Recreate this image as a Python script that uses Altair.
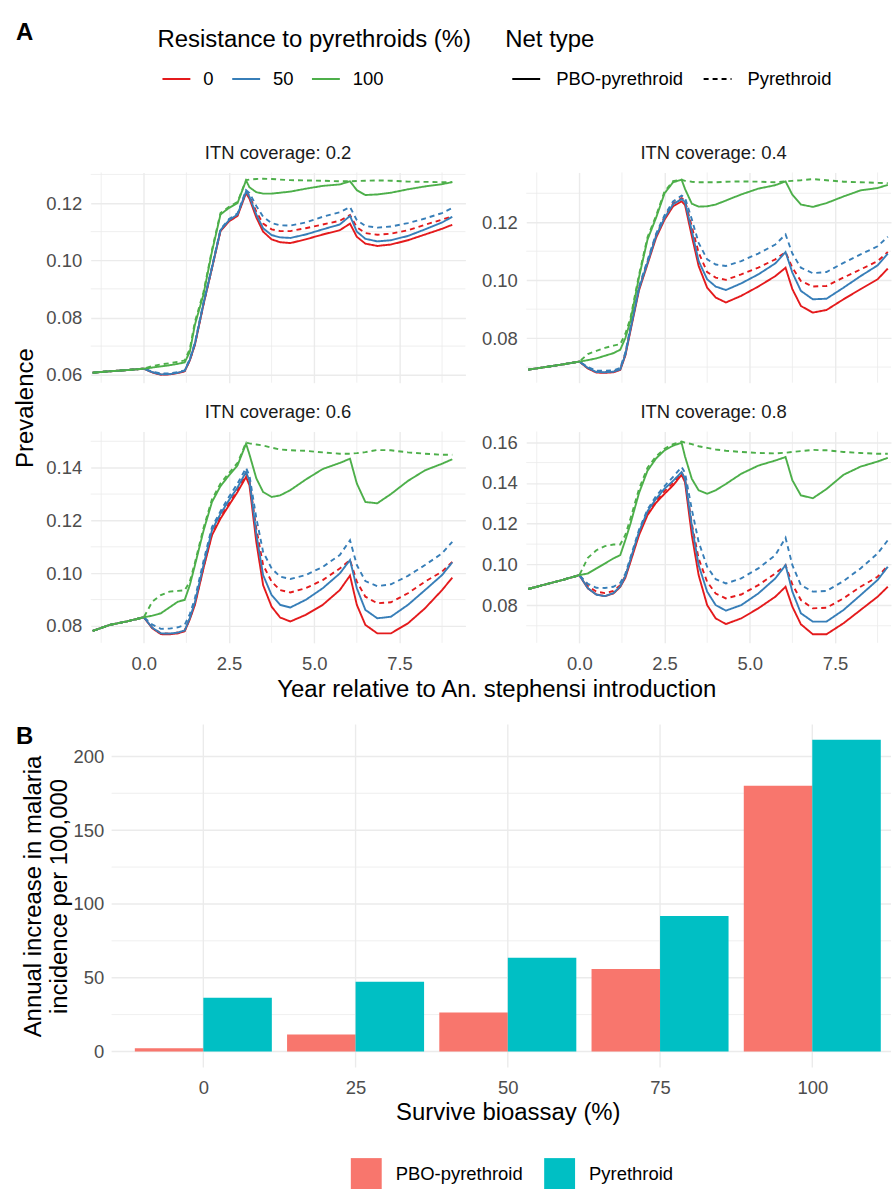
import altair as alt
import pandas as pd

FONT = "Liberation Sans"
AXIS_GREY = "#4D4D4D"
GRID = "#EBEBEB"
SMALL = 18.5     # tick labels, strip titles, legend labels
LARGE = 24       # axis and legend titles

# ---------------------------------------------------------------------------
# Panel A: modelled prevalence around the An. stephensi introduction
# ---------------------------------------------------------------------------
YEARS_BEFORE = [-1.5, -1.0, -0.5]
YEARS_AFTER = [0, 0.25, 0.5, 0.75, 1.0, 1.2, 1.35, 1.5, 1.75, 2.0, 2.25, 2.5,
               2.75, 3.0, 3.1, 3.3, 3.5, 3.75, 4.0, 4.3, 4.75, 5.25, 5.75,
               6.05, 6.25, 6.5, 6.85, 7.25, 7.75, 8.25, 8.75, 9.05]

COVERAGE = ["0.2", "0.4", "0.6", "0.8"]
RESISTANCE = ["0", "50", "100"]
NET_TYPES = ["PBO-pyrethroid", "Pyrethroid"]
RES_COLOURS = ["#E41A1C", "#377EB8", "#4DAF4A"]

# prevalence before introduction (same for every scenario of a coverage level)
pre_02 = [0.0607, 0.0612, 0.0616]
pre_04 = [0.0691, 0.0700, 0.0709]
pre_06 = [0.0781, 0.0804, 0.0817]
pre_08 = [0.0880, 0.0902, 0.0924]

# ITN coverage 0.2
c02_r0_pbo = [0.0621, 0.0608, 0.0600, 0.0601, 0.0606, 0.0612, 0.0650, 0.0705, 0.0845, 0.0972, 0.1102, 0.1136, 0.1155, 0.1235, 0.1215, 0.1150, 0.1100, 0.1073, 0.1063, 0.1060, 0.1073, 0.1090, 0.1105, 0.1128, 0.1082, 0.1058, 0.1050, 0.1055, 0.1070, 0.1090, 0.1110, 0.1124]
c02_r0_pyr = [0.0621, 0.0609, 0.0601, 0.0602, 0.0607, 0.0613, 0.0651, 0.0706, 0.0846, 0.0973, 0.1104, 0.1139, 0.1158, 0.1240, 0.1225, 0.1170, 0.1128, 0.1108, 0.1102, 0.1102, 0.1112, 0.1125, 0.1138, 0.1158, 0.1115, 0.1095, 0.1089, 0.1093, 0.1105, 0.1124, 0.1142, 0.1153]
c02_r50_pbo = [0.0621, 0.0609, 0.0601, 0.0602, 0.0607, 0.0614, 0.0652, 0.0708, 0.0848, 0.0974, 0.1105, 0.1140, 0.1160, 0.1240, 0.1222, 0.1160, 0.1112, 0.1088, 0.1080, 0.1078, 0.1090, 0.1108, 0.1125, 0.1155, 0.1100, 0.1075, 0.1066, 0.1070, 0.1085, 0.1108, 0.1132, 0.1152]
c02_r50_pyr = [0.0621, 0.0611, 0.0604, 0.0604, 0.0609, 0.0615, 0.0655, 0.0712, 0.0852, 0.0977, 0.1108, 0.1144, 0.1164, 0.1245, 0.1235, 0.1190, 0.1152, 0.1130, 0.1122, 0.1121, 0.1132, 0.1152, 0.1168, 0.1186, 0.1140, 0.1120, 0.1114, 0.1118, 0.1130, 0.1146, 0.1165, 0.1183]
c02_r100_pbo = [0.0621, 0.0625, 0.0629, 0.0633, 0.0638, 0.0643, 0.0680, 0.0775, 0.0880, 0.1030, 0.1160, 0.1183, 0.1200, 0.1279, 0.1255, 0.1238, 0.1233, 0.1233, 0.1236, 0.1240, 0.1250, 0.1260, 0.1265, 0.1276, 0.1245, 0.1228, 0.1230, 0.1236, 0.1248, 0.1258, 0.1266, 0.1273]
c02_r100_pyr = [0.0621, 0.0630, 0.0636, 0.0640, 0.0645, 0.0650, 0.0690, 0.0785, 0.0888, 0.1036, 0.1165, 0.1187, 0.1204, 0.1280, 0.1282, 0.1284, 0.1285, 0.1284, 0.1282, 0.1280, 0.1279, 0.1278, 0.1276, 0.1276, 0.1277, 0.1278, 0.1279, 0.1278, 0.1275, 0.1274, 0.1273, 0.1273]

# ITN coverage 0.4
c04_r0_pbo = [0.0719, 0.0695, 0.0681, 0.0680, 0.0682, 0.0690, 0.0740, 0.0825, 0.0965, 0.1055, 0.1146, 0.1209, 0.1255, 0.1272, 0.1260, 0.1152, 0.1049, 0.0974, 0.0940, 0.0923, 0.0946, 0.0978, 0.1014, 0.1043, 0.0969, 0.0911, 0.0888, 0.0897, 0.0934, 0.0969, 0.1003, 0.1040]
c04_r0_pyr = [0.0719, 0.0697, 0.0684, 0.0683, 0.0685, 0.0693, 0.0745, 0.0832, 0.0972, 0.1063, 0.1155, 0.1218, 0.1265, 0.1283, 0.1275, 0.1185, 0.1095, 0.1028, 0.1009, 0.1001, 0.1020, 0.1043, 0.1072, 0.1097, 0.1043, 0.0997, 0.0978, 0.0980, 0.1009, 0.1037, 0.1066, 0.1097]
c04_r50_pbo = [0.0719, 0.0697, 0.0683, 0.0682, 0.0684, 0.0692, 0.0743, 0.0830, 0.0970, 0.1060, 0.1152, 0.1215, 0.1262, 0.1280, 0.1270, 0.1170, 0.1066, 0.1003, 0.0978, 0.0966, 0.0989, 0.1020, 0.1058, 0.1097, 0.1026, 0.0963, 0.0934, 0.0936, 0.0974, 0.1014, 0.1051, 0.1092]
c04_r50_pyr = [0.0719, 0.0700, 0.0688, 0.0687, 0.0689, 0.0697, 0.0750, 0.0838, 0.0978, 0.1068, 0.1160, 0.1224, 0.1272, 0.1292, 0.1285, 0.1210, 0.1129, 0.1072, 0.1054, 0.1049, 0.1066, 0.1092, 0.1123, 0.1158, 0.1092, 0.1043, 0.1024, 0.1028, 0.1060, 0.1089, 0.1117, 0.1150]
c04_r100_pbo = [0.0719, 0.0724, 0.0730, 0.0739, 0.0748, 0.0760, 0.0800, 0.0860, 0.1010, 0.1140, 0.1215, 0.1300, 0.1338, 0.1347, 0.1315, 0.1264, 0.1254, 0.1255, 0.1261, 0.1275, 0.1296, 0.1316, 0.1328, 0.1341, 0.1295, 0.1261, 0.1253, 0.1266, 0.1289, 0.1310, 0.1318, 0.1329]
c04_r100_pyr = [0.0719, 0.0745, 0.0756, 0.0766, 0.0774, 0.0779, 0.0815, 0.0870, 0.1018, 0.1148, 0.1222, 0.1306, 0.1342, 0.1347, 0.1343, 0.1340, 0.1338, 0.1338, 0.1338, 0.1340, 0.1341, 0.1340, 0.1338, 0.1341, 0.1343, 0.1345, 0.1349, 0.1345, 0.1340, 0.1338, 0.1336, 0.1335]

# ITN coverage 0.6
c06_r0_pbo = [0.0833, 0.0791, 0.0769, 0.0768, 0.0772, 0.0780, 0.0825, 0.0880, 0.1018, 0.1144, 0.1207, 0.1258, 0.1308, 0.1365, 0.1333, 0.1119, 0.0955, 0.0873, 0.0832, 0.0817, 0.0842, 0.0880, 0.0936, 0.0991, 0.0880, 0.0804, 0.0772, 0.0772, 0.0810, 0.0867, 0.0936, 0.0983]
c06_r0_pyr = [0.0833, 0.0793, 0.0772, 0.0771, 0.0775, 0.0783, 0.0828, 0.0885, 0.1022, 0.1150, 0.1213, 0.1265, 0.1315, 0.1377, 0.1350, 0.1170, 0.1031, 0.0968, 0.0936, 0.0927, 0.0943, 0.0974, 0.1018, 0.1050, 0.0968, 0.0911, 0.0886, 0.0890, 0.0924, 0.0968, 0.1006, 0.1043]
c06_r50_pbo = [0.0833, 0.0793, 0.0772, 0.0771, 0.0775, 0.0783, 0.0830, 0.0890, 0.1030, 0.1163, 0.1225, 0.1277, 0.1325, 0.1384, 0.1350, 0.1150, 0.0993, 0.0917, 0.0880, 0.0870, 0.0899, 0.0943, 0.0999, 0.1050, 0.0943, 0.0861, 0.0829, 0.0835, 0.0880, 0.0936, 0.0993, 0.1041]
c06_r50_pyr = [0.0833, 0.0805, 0.0789, 0.0790, 0.0795, 0.0804, 0.0845, 0.0905, 0.1045, 0.1175, 0.1235, 0.1290, 0.1340, 0.1399, 0.1370, 0.1210, 0.1081, 0.1018, 0.0987, 0.0978, 0.0993, 0.1024, 0.1069, 0.1125, 0.1031, 0.0970, 0.0951, 0.0958, 0.0990, 0.1031, 0.1075, 0.1119]
c06_r100_pbo = [0.0833, 0.0839, 0.0848, 0.0870, 0.0892, 0.0899, 0.0955, 0.1030, 0.1160, 0.1270, 0.1330, 0.1371, 0.1409, 0.1491, 0.1450, 0.1360, 0.1308, 0.1289, 0.1295, 0.1315, 0.1355, 0.1395, 0.1418, 0.1434, 0.1340, 0.1270, 0.1265, 0.1300, 0.1350, 0.1390, 0.1415, 0.1432]
c06_r100_pyr = [0.0833, 0.0892, 0.0917, 0.0930, 0.0933, 0.0935, 0.0968, 0.1040, 0.1170, 0.1280, 0.1340, 0.1380, 0.1418, 0.1495, 0.1492, 0.1488, 0.1484, 0.1476, 0.1469, 0.1466, 0.1464, 0.1458, 0.1453, 0.1453, 0.1455, 0.1459, 0.1467, 0.1466, 0.1458, 0.1453, 0.1449, 0.1449]

# ITN coverage 0.8
c08_r0_pbo = [0.0948, 0.0883, 0.0853, 0.0845, 0.0858, 0.0890, 0.0935, 0.1013, 0.1144, 0.1242, 0.1303, 0.1347, 0.1388, 0.1440, 0.1404, 0.1144, 0.0948, 0.0801, 0.0736, 0.0708, 0.0736, 0.0785, 0.0842, 0.0891, 0.0793, 0.0707, 0.0658, 0.0658, 0.0712, 0.0777, 0.0842, 0.0891]
c08_r0_pyr = [0.0948, 0.0895, 0.0867, 0.0860, 0.0870, 0.0898, 0.0945, 0.1020, 0.1152, 0.1250, 0.1312, 0.1360, 0.1400, 0.1450, 0.1420, 0.1200, 0.1029, 0.0915, 0.0858, 0.0834, 0.0853, 0.0899, 0.0956, 0.0997, 0.0902, 0.0826, 0.0785, 0.0788, 0.0834, 0.0891, 0.0940, 0.0994]
c08_r50_pbo = [0.0948, 0.0884, 0.0852, 0.0845, 0.0860, 0.0893, 0.0942, 0.1025, 0.1160, 0.1261, 0.1322, 0.1372, 0.1410, 0.1453, 0.1420, 0.1190, 0.0997, 0.0867, 0.0801, 0.0774, 0.0801, 0.0858, 0.0932, 0.0997, 0.0867, 0.0761, 0.0720, 0.0720, 0.0777, 0.0850, 0.0924, 0.0989]
c08_r50_pyr = [0.0948, 0.0905, 0.0886, 0.0885, 0.0891, 0.0910, 0.0955, 0.1035, 0.1170, 0.1270, 0.1335, 0.1385, 0.1430, 0.1478, 0.1450, 0.1270, 0.1111, 0.0989, 0.0928, 0.0907, 0.0932, 0.0981, 0.1046, 0.1131, 0.0997, 0.0899, 0.0867, 0.0870, 0.0919, 0.0981, 0.1054, 0.1119]
c08_r100_pbo = [0.0948, 0.0956, 0.0981, 0.1005, 0.1030, 0.1046, 0.1120, 0.1200, 0.1350, 0.1460, 0.1520, 0.1560, 0.1583, 0.1597, 0.1530, 0.1420, 0.1364, 0.1347, 0.1364, 0.1395, 0.1445, 0.1485, 0.1510, 0.1527, 0.1413, 0.1339, 0.1325, 0.1370, 0.1440, 0.1480, 0.1505, 0.1523]
c08_r100_pyr = [0.0948, 0.1033, 0.1070, 0.1090, 0.1098, 0.1098, 0.1145, 0.1225, 0.1370, 0.1475, 0.1530, 0.1568, 0.1590, 0.1603, 0.1598, 0.1590, 0.1580, 0.1572, 0.1564, 0.1558, 0.1552, 0.1547, 0.1545, 0.1548, 0.1552, 0.1556, 0.1562, 0.1560, 0.1552, 0.1547, 0.1543, 0.1543]

# axis breaks
YEAR_TICKS = [0, 2.5, 5.0, 7.5]
YEAR_MINOR = [-1.25, 1.25, 3.75, 6.25, 8.75]

# ---------------------------------------------------------------------------
# Panel B: annual increase in incidence by bioassay survival
# ---------------------------------------------------------------------------
SURVIVE = [0, 25, 50, 75, 100]
INC_PBO = [2.2, 11.5, 26.4, 55.9, 180.2]
INC_PYR = [36.5, 47.3, 63.5, 91.9, 211.3]
BAR_COLOURS = ["#F8766D", "#00BFC4"]
INC_TICKS = [0, 50, 100, 150, 200]
INC_MINOR = [25, 75, 125, 175]

# ---------------------------------------------------------------------------
# long table for the line panels
# ---------------------------------------------------------------------------
pre_by_cov = {"0.2": pre_02, "0.4": pre_04, "0.6": pre_06, "0.8": pre_08}
series = {
    ("0.2", "0", NET_TYPES[0]): c02_r0_pbo, ("0.2", "0", NET_TYPES[1]): c02_r0_pyr,
    ("0.2", "50", NET_TYPES[0]): c02_r50_pbo, ("0.2", "50", NET_TYPES[1]): c02_r50_pyr,
    ("0.2", "100", NET_TYPES[0]): c02_r100_pbo, ("0.2", "100", NET_TYPES[1]): c02_r100_pyr,
    ("0.4", "0", NET_TYPES[0]): c04_r0_pbo, ("0.4", "0", NET_TYPES[1]): c04_r0_pyr,
    ("0.4", "50", NET_TYPES[0]): c04_r50_pbo, ("0.4", "50", NET_TYPES[1]): c04_r50_pyr,
    ("0.4", "100", NET_TYPES[0]): c04_r100_pbo, ("0.4", "100", NET_TYPES[1]): c04_r100_pyr,
    ("0.6", "0", NET_TYPES[0]): c06_r0_pbo, ("0.6", "0", NET_TYPES[1]): c06_r0_pyr,
    ("0.6", "50", NET_TYPES[0]): c06_r50_pbo, ("0.6", "50", NET_TYPES[1]): c06_r50_pyr,
    ("0.6", "100", NET_TYPES[0]): c06_r100_pbo, ("0.6", "100", NET_TYPES[1]): c06_r100_pyr,
    ("0.8", "0", NET_TYPES[0]): c08_r0_pbo, ("0.8", "0", NET_TYPES[1]): c08_r0_pyr,
    ("0.8", "50", NET_TYPES[0]): c08_r50_pbo, ("0.8", "50", NET_TYPES[1]): c08_r50_pyr,
    ("0.8", "100", NET_TYPES[0]): c08_r100_pbo, ("0.8", "100", NET_TYPES[1]): c08_r100_pyr,
}

rows = []
for cov in COVERAGE:
    for res in RESISTANCE:
        for net in NET_TYPES:
            years = YEARS_BEFORE + YEARS_AFTER
            values = pre_by_cov[cov] + series[(cov, res, net)]
            for yr, v in zip(years, values):
                rows.append({"coverage": cov, "res": res, "net": net,
                             "year": yr, "prev": v})
prev_df = pd.DataFrame(rows)

# ---------------------------------------------------------------------------
# 2 x 2 grid geometry (the right-hand column is trimmed at the figure edge)
# ---------------------------------------------------------------------------
YEAR_RANGE = [-1.558, 9.436]
PANEL_W = 376
COL_W = [376, 366]
ROW_H = [211, 212]
COL_GAP = 61
ROW_GAP = 49

panel_specs = {
    "0.2": dict(col=0, row=0, y=[0.0572, 0.1307], major=[0.06, 0.08, 0.10, 0.12], minor=[0.07, 0.09, 0.11, 0.13]),
    "0.4": dict(col=1, row=0, y=[0.0646, 0.1372], major=[0.08, 0.10, 0.12], minor=[0.07, 0.09, 0.11, 0.13]),
    "0.6": dict(col=0, row=1, y=[0.0736, 0.1537], major=[0.08, 0.10, 0.12, 0.14], minor=[0.09, 0.11, 0.13, 0.15]),
    "0.8": dict(col=1, row=1, y=[0.0616, 0.1652], major=[0.08, 0.10, 0.12, 0.14, 0.16], minor=[0.07, 0.09, 0.11, 0.13, 0.15]),
}

text_common = dict(labelFont=FONT, titleFont=FONT)


def prevalence_panel(cov):
    spec = panel_specs[cov]
    col, row = spec["col"], spec["row"]
    width, height = COL_W[col], ROW_H[row]
    first = row == 0 and col == 0
    x_hi = YEAR_RANGE[0] + (YEAR_RANGE[1] - YEAR_RANGE[0]) * width / PANEL_W
    xs = alt.Scale(domain=[YEAR_RANGE[0], x_hi], nice=False, zero=False)
    ys = alt.Scale(domain=spec["y"], nice=False, zero=False)

    x_axis_kw = dict(values=YEAR_TICKS, ticks=False, domain=False, grid=True,
                     gridColor=GRID, gridWidth=1.4, **text_common)
    if row == 1:
        x_axis_kw.update(labels=True, format=".1f", labelFontSize=SMALL,
                         labelColor=AXIS_GREY, labelPadding=12)
    else:
        x_axis_kw.update(labels=False)
    if row == 1 and col == 0:
        x_axis_kw.update(title="Year relative to An. stephensi introduction",
                         titleFontSize=LARGE, titleFontWeight="normal",
                         titleColor="black", titleX=407, titleY=54,
                         titleAlign="center", titleBaseline="alphabetic")
    else:
        x_axis_kw.update(title=None)
    x_axis = alt.Axis(**x_axis_kw)

    y_axis_kw = dict(values=spec["major"], format=".2f", ticks=False,
                     domain=False, grid=True, gridColor=GRID, gridWidth=1.4,
                     labelFontSize=SMALL, labelColor=AXIS_GREY, labelPadding=9,
                     **text_common)
    if first:
        y_axis_kw.update(title="Prevalence", titleFontSize=LARGE,
                         titleFontWeight="normal", titleColor="black",
                         titleAngle=270, titleX=-58, titleY=236,
                         titleAlign="center", titleBaseline="alphabetic")
    else:
        y_axis_kw.update(title=None)
    y_axis = alt.Axis(**y_axis_kw)

    if first:
        legend_kw = dict(orient="none", direction="horizontal", padding=0,
                         symbolType="stroke", symbolSize=784,
                         symbolStrokeWidth=2, labelFontSize=SMALL,
                         labelColor="black", labelFont=FONT, titleFont=FONT,
                         titleFontSize=LARGE, titleFontWeight="normal",
                         titleColor="black", titlePadding=12, titleLimit=600,
                         legendY=-145)
        colour_legend = alt.Legend(title="Resistance to pyrethroids (%)",
                                   legendX=67, columns=3, columnPadding=13,
                                   labelOffset=12, symbolOffset=4, **legend_kw)
        dash_legend = alt.Legend(title="Net type", legendX=416, columns=2,
                                 columnPadding=13, labelOffset=15,
                                 symbolOffset=6, symbolStrokeColor="black",
                                 **legend_kw)
    else:
        colour_legend = None
        dash_legend = None

    data = prev_df[prev_df["coverage"] == cov]

    minor_x = alt.Chart(pd.DataFrame({"year": YEAR_MINOR})).mark_rule(
        color=GRID, strokeWidth=0.8).encode(
        x=alt.X("year:Q", scale=xs, axis=x_axis))
    minor_y = alt.Chart(pd.DataFrame({"prev": spec["minor"]})).mark_rule(
        color=GRID, strokeWidth=0.8).encode(
        y=alt.Y("prev:Q", scale=ys, axis=y_axis))

    lines = alt.Chart(data).mark_line(strokeWidth=1.9, clip=True).encode(
        x=alt.X("year:Q", scale=xs, axis=x_axis),
        y=alt.Y("prev:Q", scale=ys, axis=y_axis),
        color=alt.Color("res:N", sort=RESISTANCE,
                        scale=alt.Scale(domain=RESISTANCE, range=RES_COLOURS),
                        legend=colour_legend),
        strokeDash=alt.StrokeDash("net:N", sort=NET_TYPES,
                                  scale=alt.Scale(domain=NET_TYPES,
                                                  range=[[1, 0], [5, 4]]),
                                  legend=dash_legend),
    )

    layers = [minor_x, minor_y, lines]
    title_dy = 0
    if first:
        tag = alt.Chart(pd.DataFrame({"tag": ["A"]})).mark_text(
            align="left", baseline="top", fontSize=24, fontWeight="bold",
            font=FONT, color="black").encode(
            text="tag:N", x=alt.value(-75), y=alt.value(-152))
        layers.append(tag)
        # the strip title would otherwise sit above the panel tag
        title_dy = 152

    return alt.layer(*layers).properties(
        width=width, height=height,
        title=alt.TitleParams(f"ITN coverage: {cov}", fontSize=SMALL,
                              fontWeight="normal", color="#1A1A1A", font=FONT,
                              offset=10, anchor="middle", frame="group",
                              dx=(PANEL_W - width) / 2, dy=title_dy),
    )


# ---------------------------------------------------------------------------
# bar panel: sits in the first grid column; its plotting band is given by the
# scale ranges so that it runs on to the figure edge
# ---------------------------------------------------------------------------
bar_df = pd.DataFrame({
    "survive": SURVIVE + SURVIVE,
    "net": [NET_TYPES[0]] * len(SURVIVE) + [NET_TYPES[1]] * len(SURVIVE),
    "inc": INC_PBO + INC_PYR,
})

BAR_RIGHT = 803           # from the grid's left edge to the figure edge
BAR_LEFT = 21             # plotting band starts this far in
BAR_TOP = 33              # and this far down
BAR_H = 344
BAR_FULL_W = 795          # untrimmed plotting width, for centring the title
PX_PER_UNIT = 6.11

bx = alt.Scale(domain=[-15.06, -15.06 + (BAR_RIGHT - BAR_LEFT) / PX_PER_UNIT],
               range=[BAR_LEFT, BAR_RIGHT], nice=False, zero=False)
by = alt.Scale(domain=[-10.8, 221.6], range=[BAR_TOP + BAR_H, BAR_TOP],
               nice=False, zero=False)

bar_x_axis = alt.Axis(
    values=SURVIVE, format="d", ticks=False, domain=False, grid=False,
    labelFontSize=SMALL, labelColor=AXIS_GREY,
    labelPadding=11, title="Survive bioassay (%)", titleFontSize=LARGE,
    titleFontWeight="normal", titleColor="black",
    titleX=BAR_LEFT + BAR_FULL_W / 2, titleY=52, titleAlign="center",
    titleBaseline="alphabetic", **text_common)
bar_y_axis = alt.Axis(
    values=INC_TICKS, ticks=False, domain=False, grid=False, offset=-BAR_LEFT,
    labelFontSize=SMALL, labelColor=AXIS_GREY, labelPadding=8,
    title=["Annual increase in malaria", "incidence per 100,000"],
    titleFontSize=LARGE, titleFontWeight="normal", titleColor="black",
    titleAngle=270, titleX=-71, titleY=BAR_TOP + BAR_H / 2, titleAlign="center",
    titleBaseline="alphabetic", titleLineHeight=26, **text_common)

# grid lines confined to the plotting band
grid_v = alt.Chart(pd.DataFrame({"lo": SURVIVE})).mark_rule(
    color=GRID, strokeWidth=1.4).encode(
    x=alt.X("lo:Q", scale=bx, axis=bar_x_axis),
    y=alt.value(BAR_TOP), y2=alt.value(BAR_TOP + BAR_H))
grid_h_major = alt.Chart(pd.DataFrame({"inc": INC_TICKS})).mark_rule(
    color=GRID, strokeWidth=1.4).encode(
    y=alt.Y("inc:Q", scale=by, axis=bar_y_axis),
    x=alt.value(BAR_LEFT), x2=alt.value(BAR_RIGHT))
grid_h_minor = alt.Chart(pd.DataFrame({"inc": INC_MINOR})).mark_rule(
    color=GRID, strokeWidth=0.8).encode(
    y=alt.Y("inc:Q", scale=by, axis=bar_y_axis),
    x=alt.value(BAR_LEFT), x2=alt.value(BAR_RIGHT))

# dodge: each group spans 0.9 of the 25-point spacing, split between net types
bars = alt.Chart(bar_df).transform_calculate(
    lo="datum.survive - 11.25 + (datum.net == 'Pyrethroid' ? 11.25 : 0)",
).transform_calculate(
    hi="datum.lo + 11.25",
).mark_bar().encode(
    x=alt.X("lo:Q", scale=bx, axis=bar_x_axis),
    x2="hi:Q",
    y=alt.Y("inc:Q", scale=by, axis=bar_y_axis),
    y2=alt.datum(0),
    color=alt.Color("net:N", sort=NET_TYPES,
                    scale=alt.Scale(domain=NET_TYPES, range=BAR_COLOURS),
                    legend=alt.Legend(
                        title=None, orient="none", legendX=261, legendY=468,
                        direction="horizontal", columns=2, padding=0,
                        symbolType="square", symbolSize=961,
                        symbolStrokeWidth=0, symbolOpacity=1,
                        labelFontSize=SMALL, labelColor="black",
                        labelFont=FONT, labelOffset=14, columnPadding=21)),
)

tag_b = alt.Chart(pd.DataFrame({"tag": ["B"]})).mark_text(
    align="left", baseline="top", fontSize=24, fontWeight="bold",
    font=FONT, color="black").encode(
    text="tag:N", x=alt.value(-75), y=alt.value(BAR_TOP))

bar_panel = alt.layer(grid_v, grid_h_major, grid_h_minor, bars, tag_b).properties(
    width=COL_W[0], height=BAR_TOP + BAR_H)

chart = alt.concat(
    prevalence_panel("0.2"), prevalence_panel("0.4"),
    prevalence_panel("0.6"), prevalence_panel("0.8"),
    bar_panel,
    columns=2, bounds="flush", align="each",
    spacing={"row": ROW_GAP, "column": COL_GAP},
).resolve_scale(
    x="independent", y="independent", color="independent",
    strokeDash="independent",
).properties(
    padding={"left": 14, "top": 19, "right": 0, "bottom": 0},
).configure(font=FONT).configure_view(strokeWidth=0, stroke=None)

chart.save("out.html", embed_options={"renderer": "svg", "actions": False})
